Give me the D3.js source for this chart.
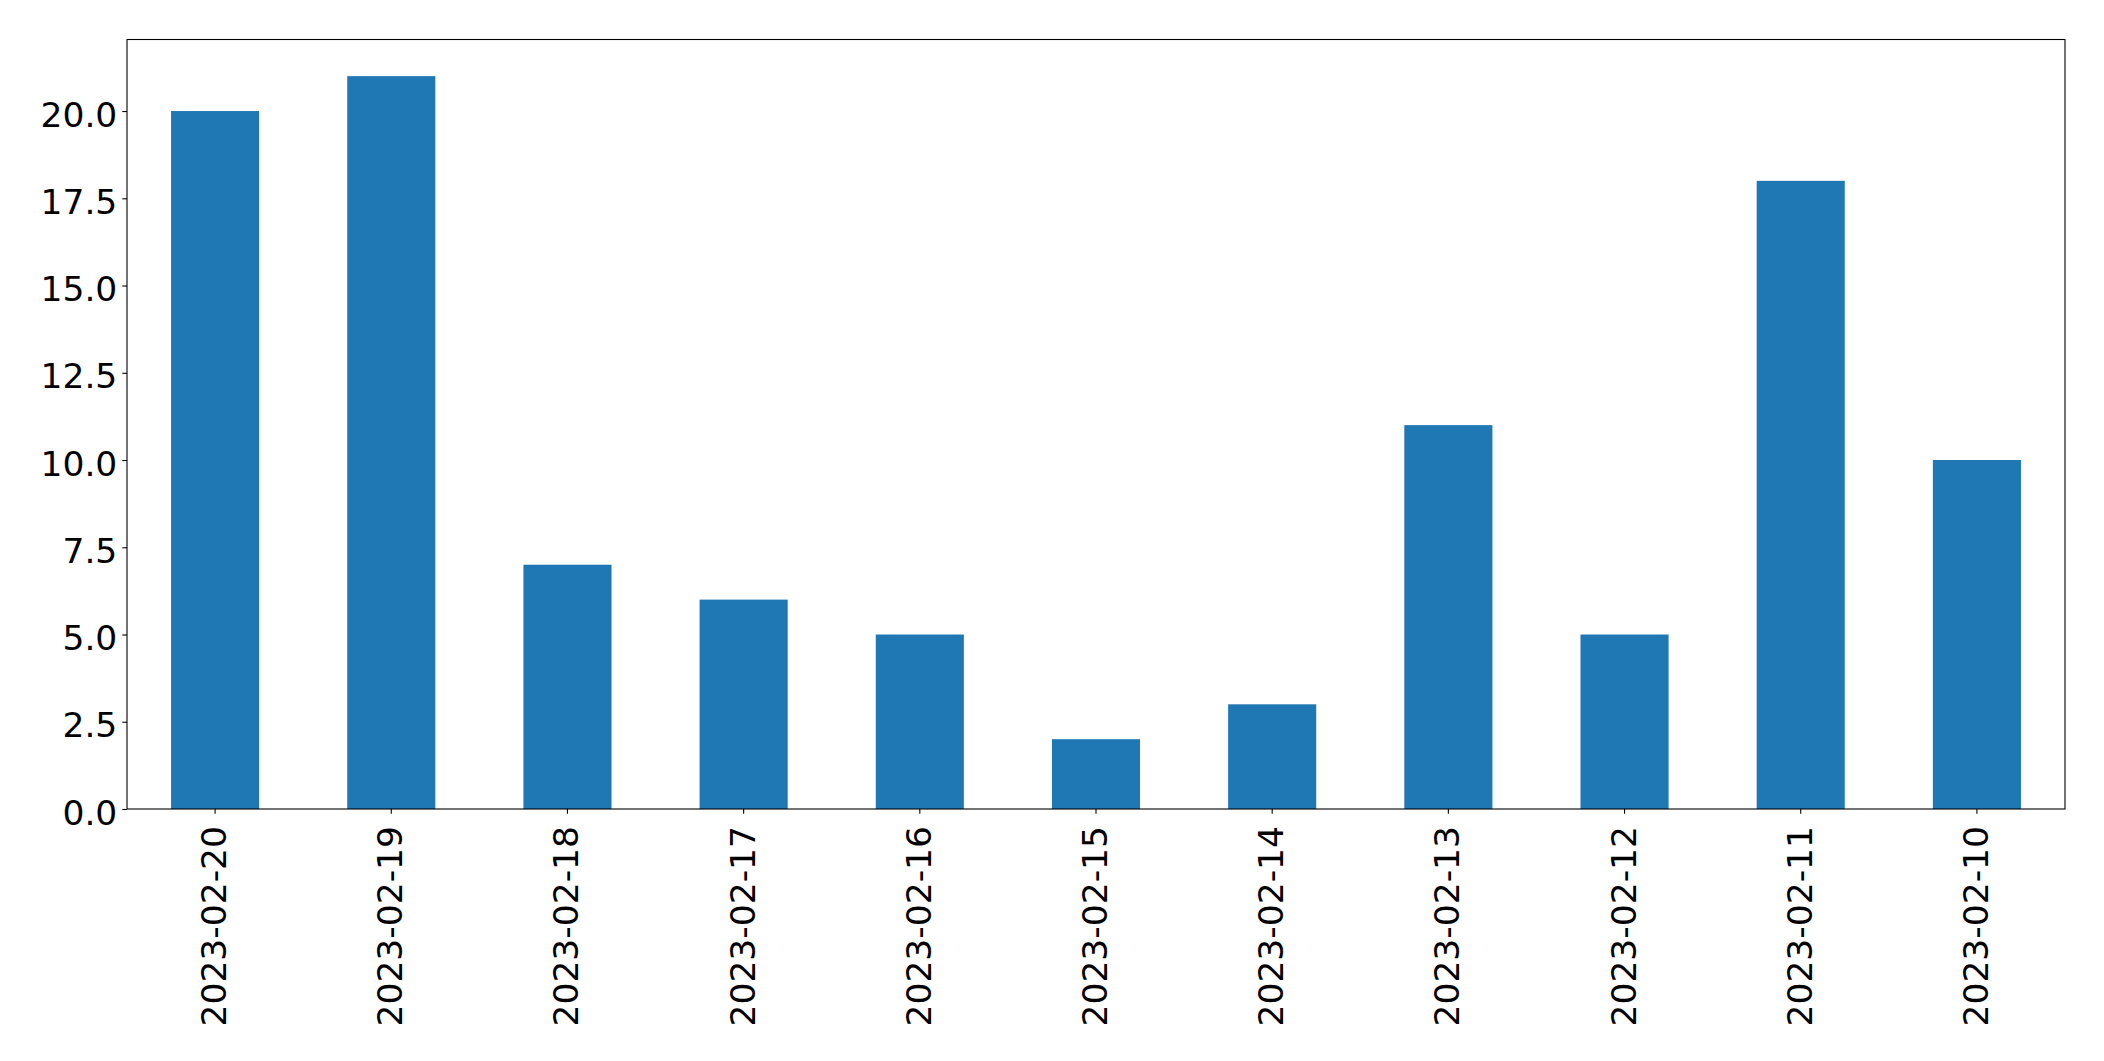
<!DOCTYPE html>
<html>
<head>
<meta charset="utf-8">
<script src="https://cdn.jsdelivr.net/npm/d3@7/dist/d3.min.js"></script>
<style>
  html, body { margin: 0; padding: 0; background: #ffffff; }
  svg { display: block; }
  text { font-family: "DejaVu Sans", sans-serif; fill: #000; }
</style>
</head>
<body>
<svg id="chart" width="2104" height="1061"></svg>
<script>
const categories = ["2023-02-20","2023-02-19","2023-02-18","2023-02-17","2023-02-16","2023-02-15","2023-02-14","2023-02-13","2023-02-12","2023-02-11","2023-02-10"];
const values = [20, 21, 7, 6, 5, 2, 3, 11, 5, 18, 10];
const yTicks = [0, 2.5, 5, 7.5, 10, 12.5, 15, 17.5, 20];

const plotLeft = 127, plotRight = 2065, plotTop = 39.5, plotBottom = 809;
const fontSize = 34.5;

const svg = d3.select("#chart");

const x = d3.scaleBand()
  .domain(categories)
  .range([plotLeft, plotRight])
  .paddingInner(0.5)
  .paddingOuter(0.25);

const yMax = d3.max(values) * 1.05;
const y = d3.scaleLinear().domain([0, yMax]).range([plotBottom, plotTop]);

// bars
svg.append("g")
  .selectAll("rect")
  .data(categories.map((c, i) => ({c, v: values[i]})))
  .join("rect")
  .attr("x", d => x(d.c))
  .attr("width", x.bandwidth())
  .attr("y", d => y(d.v))
  .attr("height", d => y(0) - y(d.v))
  .attr("fill", "#1f77b4");

// y axis
const yAxis = d3.axisLeft(y)
  .tickValues(yTicks)
  .tickFormat(d3.format(".1f"))
  .tickSize(4.7)
  .tickPadding(5);
const gy = svg.append("g").attr("transform", `translate(${plotLeft},0)`).call(yAxis);
gy.select(".domain").remove();
gy.selectAll(".tick line").attr("stroke", "#000").attr("stroke-width", 1.1);
gy.selectAll(".tick text")
  .attr("font-size", fontSize)
  .attr("font-family", "DejaVu Sans, sans-serif")
  .attr("fill", "#000")
  .attr("dy", null)
  .attr("y", 15);
gy.attr("font-family", null).attr("font-size", null);

// x axis
const xAxis = d3.axisBottom(x).tickSize(4.7).tickPadding(0);
const gx = svg.append("g").attr("transform", `translate(0,${plotBottom})`).call(xAxis);
gx.select(".domain").remove();
gx.selectAll(".tick line").attr("stroke", "#000").attr("stroke-width", 1.1);
gx.selectAll(".tick text")
  .attr("font-size", fontSize)
  .attr("font-family", "DejaVu Sans, sans-serif")
  .attr("fill", "#000")
  .attr("text-anchor", "end")
  .attr("y", null)
  .attr("dy", null)
  .attr("transform", "translate(11,17) rotate(-90)");
gx.attr("font-family", null).attr("font-size", null);

// frame
svg.append("rect")
  .attr("x", plotLeft).attr("y", plotTop)
  .attr("width", plotRight - plotLeft).attr("height", plotBottom - plotTop)
  .attr("fill", "none").attr("stroke", "#000").attr("stroke-width", 1.1);
</script>
</body>
</html>
